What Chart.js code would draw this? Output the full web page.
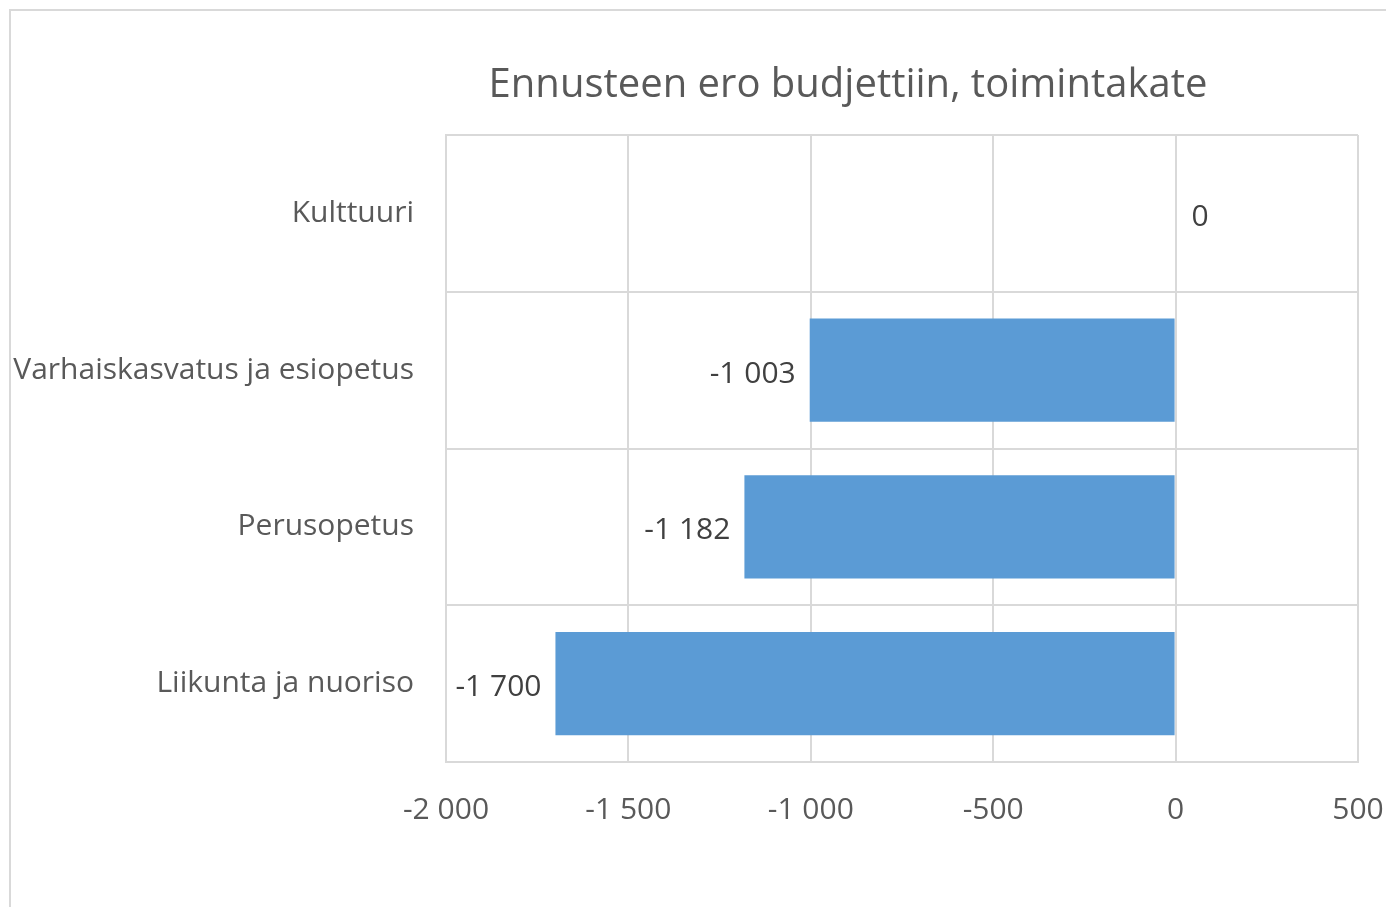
<!DOCTYPE html>
<html>
<head>
<meta charset="utf-8">
<script src="https://cdn.jsdelivr.net/npm/chart.js@4"></script>
<style>
  html, body { margin: 0; padding: 0; background: #fff; overflow: hidden; }
  #frame { position: absolute; left: 9px; top: 9px; width: 1500px; height: 1000px; border: 2px solid #d9d9d9; }
  #wrap { position: absolute; left: 0; top: 0; width: 1386px; height: 907px; }
</style>
</head>
<body>
<div id="frame"></div>
<div id="wrap"><canvas id="canvas"></canvas></div>
<script>
// data
let titulo = "Ennusteen ero budjettiin, toimintakate";
let labels = ["Kulttuuri", "Varhaiskasvatus ja esiopetus", "Perusopetus", "Liikunta ja nuoriso"];
let values = [0, -1003, -1182, -1700];
let xTicks = [-2000, -1500, -1000, -500, 0, 500];

const fontName = "Open Sans";
const grey = "#595959";

function fmt(n){
  let s = Math.abs(Math.round(n)).toString().replace(/\B(?=(\d{3})+(?!\d))/g, " ");
  return (n < 0 ? "-" : "") + s;
}

// title drawn over the plot, labels at end of bars
const extras = {
  id: "extras",
  afterDraw(chart){
    let ctx = chart.ctx;
    ctx.save();
    ctx.fillStyle = grey;
    ctx.font = "40px " + fontName;
    ctx.textAlign = "center";
    ctx.textBaseline = "middle";
    ctx.fillText(titulo, 848, 86);

    ctx.fillStyle = "#404040";
    ctx.font = "30px " + fontName;
    let meta = chart.getDatasetMeta(0);
    meta.data.forEach((bar, i) => {
      let v = values[i];
      if (v < 0) {
        ctx.textAlign = "right";
        ctx.fillText(fmt(v), bar.x - 14, bar.y + 4);
      } else {
        ctx.textAlign = "left";
        ctx.fillText(fmt(v), bar.x + 16, bar.y + 4);
      }
    });
    ctx.restore();
  }
};

let ctx = document.getElementById("canvas").getContext("2d");
let grafica = new Chart(ctx, {
  type: "bar",
  data: {
    labels: labels,
    datasets: [{
      data: values,
      backgroundColor: "#5b9bd5",
      barPercentage: 0.66,
      categoryPercentage: 1.0
    }]
  },
  options: {
    indexAxis: "y",
    responsive: true,
    maintainAspectRatio: false,
    animation: false,
    layout: { padding: { top: 135, right: 0, bottom: 0, left: 0 } },
    plugins: {
      legend: { display: false },
      title: { display: false },
      tooltip: { enabled: false }
    },
    scales: {
      x: {
        min: -2000,
        max: 500,
        afterBuildTicks: (s) => { s.ticks = xTicks.map(v => ({ value: v })); },
        afterFit: (s) => { s.height = 145; s.paddingRight = 28; },
        ticks: {
          color: grey,
          font: { family: fontName, size: 30 },
          padding: 30,
          maxRotation: 0,
          callback: (v) => fmt(v)
        },
        grid: { color: "#d9d9d9", lineWidth: 2, drawTicks: false },
        border: { color: "#d9d9d9", width: 2 }
      },
      y: {
        afterFit: (s) => { s.width = 446; },
        ticks: {
          color: grey,
          font: { family: fontName, size: 30 },
          padding: 32
        },
        grid: { color: "#d9d9d9", lineWidth: 2, drawTicks: false },
        border: { color: "#d9d9d9", width: 2 }
      }
    }
  },
  plugins: [extras]
});
</script>
</body>
</html>
